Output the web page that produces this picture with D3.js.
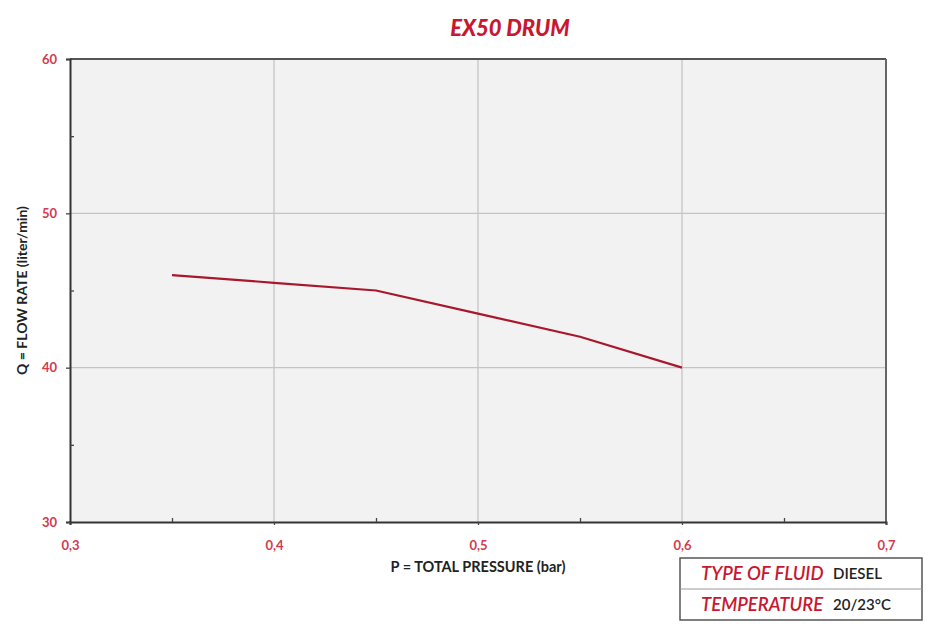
<!DOCTYPE html>
<html>
<head>
<meta charset="utf-8">
<script src="https://cdn.jsdelivr.net/npm/d3@7"></script>
<style>
  html, body { margin: 0; padding: 0; background: #ffffff; }
  svg { display: block; }
</style>
</head>
<body>
<svg id="chart" width="930" height="635"></svg>
<script>
// ---- data ----
const pressure = [0.35, 0.40, 0.45, 0.50, 0.55, 0.60];
const flowRate = [46.0, 45.5, 45.0, 43.5, 42.0, 40.0];
const xTicks = [0.3, 0.4, 0.5, 0.6, 0.7];
const xMinorTicks = [0.35, 0.45, 0.55, 0.65];
const yTicks = [30, 40, 50, 60];
const yMinorTicks = [35, 45, 55];
const chartTitle = "EX50 DRUM";
const xTitle = "P = TOTAL PRESSURE (bar)";
const yTitle = "Q = FLOW RATE (liter/min)";
const infoLabels = ["TYPE OF FLUID", "TEMPERATURE"];
const infoValues = ["DIESEL", "20/23°C"];

// ---- layout ----
const svg = d3.select("#chart");
const m = { left: 70, right: 44, top: 59, bottom: 113 };
const W = 930, H = 635;
const pw = W - m.left - m.right, ph = H - m.top - m.bottom;

const x = d3.scaleLinear().domain([0.3, 0.7]).range([m.left, m.left + pw]);
const y = d3.scaleLinear().domain([30, 60]).range([m.top + ph, m.top]);

const red = "#c8182f";
const labelRed = "#d23a4e";
const fmt = d => d3.format(".1f")(d).replace(".", ",");

// plot background
svg.append("rect")
  .attr("x", m.left).attr("y", m.top).attr("width", pw).attr("height", ph)
  .attr("fill", "#f2f2f2");

// grid
const grid = svg.append("g");
grid.selectAll("line.gx").data(xTicks.slice(1, -1)).join("line")
  .attr("x1", d => x(d)).attr("x2", d => x(d))
  .attr("y1", m.top).attr("y2", m.top + ph)
  .attr("stroke", "#c4c4c4").attr("stroke-width", 1.3);
grid.selectAll("line.gy").data(yTicks.slice(1, -1)).join("line")
  .attr("x1", m.left).attr("x2", m.left + pw)
  .attr("y1", d => y(d)).attr("y2", d => y(d))
  .attr("stroke", "#c4c4c4").attr("stroke-width", 1.3);

// frame (top/right)
svg.append("line").attr("x1", m.left).attr("x2", m.left + pw).attr("y1", m.top).attr("y2", m.top)
  .attr("stroke", "#555").attr("stroke-width", 2);
svg.append("line").attr("x1", m.left + pw).attr("x2", m.left + pw).attr("y1", m.top).attr("y2", m.top + ph)
  .attr("stroke", "#666").attr("stroke-width", 2);

// axes
const xAxis = svg.append("g").attr("transform", `translate(0,${m.top + ph})`)
  .call(d3.axisBottom(x).tickValues(xTicks).tickFormat(fmt).tickSize(3).tickPadding(16));
const xMinor = svg.append("g").attr("transform", `translate(0,${m.top + ph})`)
  .call(d3.axisTop(x).tickValues(xMinorTicks).tickFormat("").tickSize(4));
const yAxis = svg.append("g").attr("transform", `translate(${m.left},0)`)
  .call(d3.axisLeft(y).tickValues(yTicks).tickFormat(d3.format("d")).tickSize(4).tickPadding(9));
const yMinor = svg.append("g").attr("transform", `translate(${m.left},0)`)
  .call(d3.axisRight(y).tickValues(yMinorTicks).tickFormat("").tickSize(4));

[xAxis, yAxis, xMinor, yMinor].forEach(g => {
  g.select(".domain").attr("stroke", "#333").attr("stroke-width", 2);
  g.selectAll(".tick line").attr("stroke", "#444").attr("stroke-width", 1.3);
  g.selectAll(".tick text")
    .attr("fill", labelRed)
    .style("font-family", "Lato, 'Open Sans', sans-serif")
    .style("font-size", "13px")
    .style("font-weight", "bold");
});
xMinor.select(".domain").remove();
yMinor.select(".domain").remove();

// data line
const line = d3.line().x((d, i) => x(pressure[i])).y(d => y(d));
svg.append("path").datum(flowRate)
  .attr("d", line)
  .attr("fill", "none")
  .attr("stroke", "#a8182c")
  .attr("stroke-width", 2.2)
  .attr("stroke-linejoin", "round");

// title
svg.append("text")
  .attr("x", 510).attr("y", 36)
  .attr("text-anchor", "middle")
  .attr("fill", red)
  .style("font-family", "Lato, 'Open Sans', sans-serif")
  .style("font-size", "22px")
  .style("font-weight", "900")
  .style("font-style", "italic")
  .text(chartTitle);

// axis titles
svg.append("text")
  .attr("x", 478).attr("y", 572)
  .attr("text-anchor", "middle")
  .attr("fill", "#222")
  .style("font-family", "Lato, 'Open Sans', sans-serif")
  .style("font-size", "14.5px")
  .style("font-weight", "bold")
  .text(xTitle);

svg.append("text")
  .attr("transform", `translate(27,${y(45)}) rotate(-90)`)
  .attr("text-anchor", "middle")
  .attr("fill", "#222")
  .style("font-family", "Lato, 'Open Sans', sans-serif")
  .style("font-size", "14px")
  .style("font-weight", "bold")
  .text(yTitle);

// info box
const box = svg.append("g").attr("transform", "translate(680,558)");
const bw = 242, rh = 31;
box.append("rect").attr("width", bw).attr("height", rh * 2)
  .attr("fill", "#fff").attr("stroke", "#555").attr("stroke-width", 1.5);
box.append("line").attr("x1", 0).attr("x2", bw).attr("y1", rh).attr("y2", rh)
  .attr("stroke", "#999").attr("stroke-width", 1);
infoLabels.forEach((lab, i) => {
  box.append("text")
    .attr("x", 21).attr("y", rh * i + 22)
    .attr("fill", red)
    .style("font-family", "Lato, 'Open Sans', sans-serif")
    .style("font-size", "18.5px")
    .style("font-style", "italic")
    .style("font-weight", "600")
    .text(lab);
  box.append("text")
    .attr("x", 153).attr("y", rh * i + 21)
    .attr("fill", "#222")
    .style("font-family", "Lato, 'Open Sans', sans-serif")
    .style("font-size", "15px")
    .style("font-weight", "600")
    .text(infoValues[i]);
});
</script>
</body>
</html>
